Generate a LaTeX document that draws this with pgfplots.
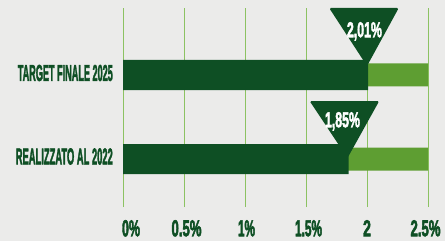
\documentclass[border=0pt]{standalone}
\usepackage{pgfplots}
\pgfplotsset{compat=1.18}
\usepackage{fontspec}
\setmainfont{Liberation Sans}[BoldFeatures={FakeBold=3}]
\usepackage{graphicx}
\definecolor{dkg}{HTML}{0E4F24}
\definecolor{ltg}{HTML}{5E9E32}
\definecolor{grd}{HTML}{8CC262}
\definecolor{bg}{HTML}{EBEBEA}
\newcommand{\rb}[3]{\resizebox{#1bp}{#2bp}{\bfseries #3}}
\begin{document}
\begin{tikzpicture}[x=1bp,y=1bp]
\useasboundingbox (0,0) rectangle (445,241);
\fill[bg] (0,0) rectangle (445,241);
\clip (0,0) rectangle (445,241);
\begin{axis}[at={(123bp,34bp)}, anchor=south west, scale only axis,
  width=305bp, height=199bp, xmin=0, xmax=2.5, ymin=0, ymax=199,
  axis line style={draw=none}, major tick length=0pt,
  xtick={0,0.5,1,1.5,2,2.5},
  xticklabels={\hspace*{16bp}\rb{18}{16}{0\%},\hspace*{5bp}\rb{30}{16}{0.5\%},\hspace*{3bp}\rb{17}{16}{1\%},\hspace*{5bp}\rb{27}{16}{1.5\%},\rb{8}{16}{2},\rb{30}{16}{2.5\%}\hspace*{5bp}},
  ytick={50.5,134},
  yticklabels={\rb{97}{16}{REALIZZATO AL 2022},\rb{95}{16}{TARGET FINALE 2025}},
  xmajorgrids, grid style={grd, line width=1bp},
  xticklabel style={anchor=north, inner sep=0pt, yshift=-13bp, text=dkg},
  yticklabel style={anchor=east, inner sep=0pt, xshift=-10bp, text=dkg},
  clip=false]
\addplot[xbar, bar shift=0pt, bar width=23, fill=ltg, draw=none] coordinates {(2.5,132) (2.5,48)};
\addplot[xbar, bar shift=0pt, bar width=30, fill=dkg, draw=none] coordinates {(2.01,132) (1.85,48)};
\fill[dkg, rounded corners=1.5bp] (axis cs:1.69,199) -- (axis cs:2.26,199) -- (axis cs:2.00,141) -- cycle;
\fill[dkg, rounded corners=1.5bp] (axis cs:1.53,106) -- (axis cs:2.10,106) -- (axis cs:1.84,49) -- cycle;
\node[anchor=north, inner sep=0pt, text=white] at (axis cs:1.979,185) {\rb{35}{15}{2,01\%}};
\node[anchor=north, inner sep=0pt, text=white] at (axis cs:1.799,95) {\rb{35}{15}{1,85\%}};
\end{axis}
\end{tikzpicture}
\end{document}
